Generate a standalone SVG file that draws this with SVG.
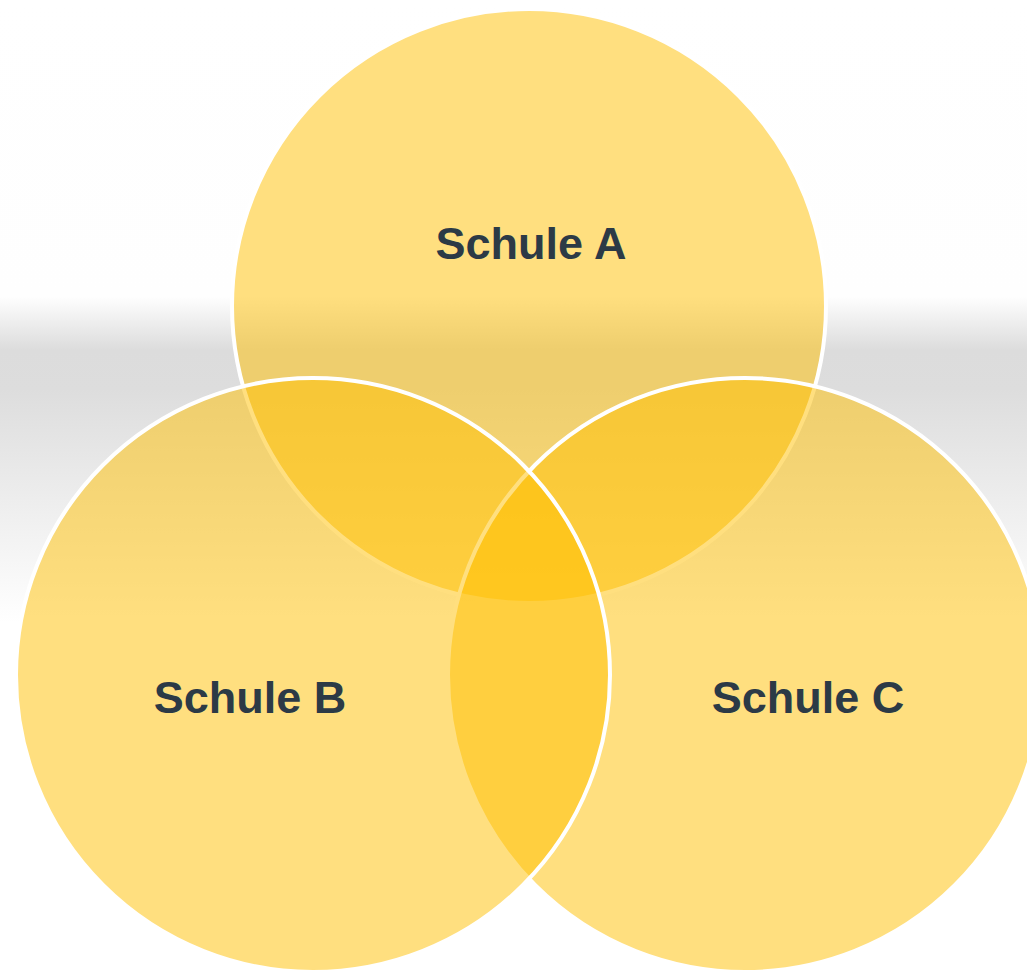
<svg xmlns="http://www.w3.org/2000/svg" width="1027" height="973" viewBox="0 0 1027 973">
<defs>
<linearGradient id="bg" x1="0" y1="0" x2="0" y2="973" gradientUnits="userSpaceOnUse">
<stop offset="0" stop-color="#FFFFFF"/>
<stop offset="0.305" stop-color="#FEFEFE"/>
<stop offset="0.36" stop-color="#DCDCDC"/>
<stop offset="0.40" stop-color="#DDDDDD"/>
<stop offset="0.64" stop-color="#FFFFFF"/>
<stop offset="1" stop-color="#FFFFFF"/>
</linearGradient>
<style>
.c{fill:#FFBF00;fill-opacity:0.5;stroke:#FFFFFF;stroke-width:4}
.t{font-family:"Liberation Sans",Arial,sans-serif;font-weight:bold;font-size:45px;fill:#2C3A46;text-anchor:middle}
</style>
</defs>
<rect x="0" y="0" width="1027" height="973" fill="url(#bg)"/>
<g id="node-a"><circle class="c" cx="529" cy="306" r="297"/></g>
<g id="node-c"><circle class="c" cx="745" cy="675" r="297"/></g>
<g id="node-b"><circle class="c" cx="313" cy="675" r="297"/></g>
<g id="labels">
<text class="t" x="531" y="259">Schule A</text>
<text class="t" x="250" y="713">Schule B</text>
<text class="t" x="808" y="713">Schule C</text>
</g>
<g id="connectors"/>
</svg>
